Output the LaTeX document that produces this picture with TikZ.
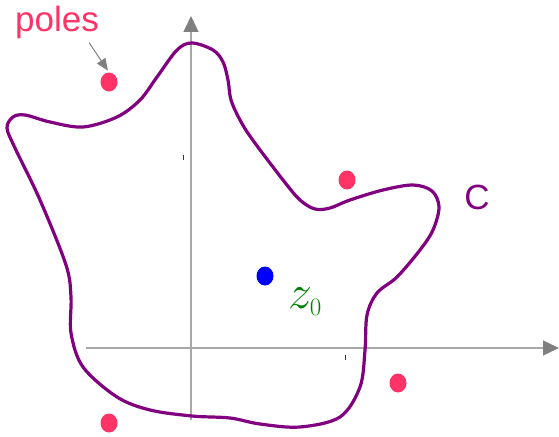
\RequirePackage{fix-cm}
\documentclass[tikz,border=0pt]{standalone}
\usepackage{fontspec}
\setsansfont{Liberation Sans}
\usetikzlibrary{arrows.meta, shapes.geometric}
\definecolor{polecol}{HTML}{FF3366}
\definecolor{contour}{HTML}{800080}
\definecolor{axisgray}{HTML}{A8A8A8}
\definecolor{tipgray}{HTML}{808080}
\definecolor{zgreen}{HTML}{008000}
\tikzset{
	pole/.style={ellipse, fill=polecol, minimum width=17pt, minimum height=19pt, inner sep=0pt},
	centre/.style={ellipse, fill=blue, minimum width=17pt, minimum height=19pt, inner sep=0pt},
	axis/.style={axisgray, line width=1.3pt, -{Triangle[length=16pt, width=15pt, color=tipgray]}},
	curve/.style={contour, line width=3.2pt},
	tick/.style={contour, line width=1pt},
	label/.style={inner sep=0pt, font=\sffamily\fontsize{35}{40}\selectfont},
}

\begin{document}
\begin{tikzpicture}[x=1pt, y=-1pt]
	\useasboundingbox (0,0) rectangle (559,436);

	% axes
	\draw[axis] (86,348) -- (559,348);
	\draw[axis] (191,420) -- (191,16);
	\draw[tick] (183,155) -- (183,160);
	\draw[tick] (345,355) -- (345,360);

	% contour C
	\draw[curve] plot[smooth cycle, tension=0.55] coordinates {
		(192,43) (213,50) (223,62) (228,80) (231,100) (240,120) (252,139)
		(283,180) (300,200) (315,209) (330,208) (350,200) (383,190)
		(413,185) (432,191) (439,207) (433,230) (420,250) (397,277)
		(377,293) (367,315) (365,350) (360,387) (340,417) (300,427)
		(260,424) (230,418) (192,416) (150,410) (117,397) (83,367)
		(71,333) (71,297) (66,265) (40,200) (15,148) (7,128) (13,117)
		(25,115) (50,122) (83,127) (117,117) (140,100) (157,77) (177,50)};

	% poles and z0
	\node[pole] (p1) at (109,82) {};
	\node[pole] (p2) at (347,180) {};
	\node[pole] (p3) at (398,383) {};
	\node[pole] (p4) at (109,423) {};
	\node[centre] (z) at (265,276) {};

	\node[label, text=polecol] (poles) at (57,22) {poles};
	\node[label, text=contour] (cname) at (477,197) {C};
	\node[inner sep=0pt, text=zgreen, font=\fontsize{48}{50}\selectfont] (zlab) at (305,302)
		{$z\sb{\mbox{\fontsize{25}{25}\selectfont 0}}$};

	\draw[tipgray, line width=1pt, -{Triangle[length=12pt, width=10pt]}, shorten >=2pt]
		(poles.south east) ++(-10,4) coordinate (ps) -- (p1.north);
\end{tikzpicture}
\end{document}
